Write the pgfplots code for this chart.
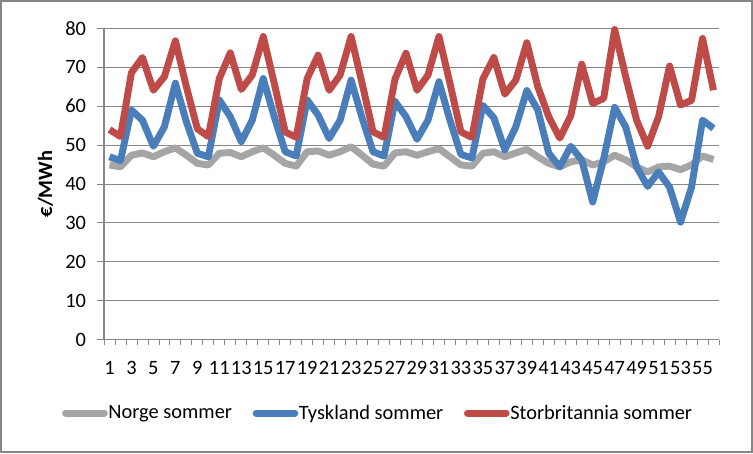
\documentclass[border=0pt]{standalone}
\usepackage{fontspec}
\setmainfont{Carlito}
\usepackage{pgfplots}
\usepackage{pgfplotstable}
\pgfplotsset{compat=1.18}

\definecolor{norge}{HTML}{A5A5A5}
\definecolor{tysk}{HTML}{4A7EBB}
\definecolor{storb}{HTML}{BE4B48}
\definecolor{gridgray}{HTML}{868686}

% uke, Norge, Tyskland, Storbritannia
\pgfplotstableread{
x N T S
1 44.9 47.0 54.0
2 44.4 46.0 52.2
3 47.4 59.0 68.6
4 48.0 56.4 72.5
5 47.0 49.7 64.1
6 48.3 54.7 67.6
7 49.3 65.9 76.8
8 47.4 56.0 65.0
9 45.3 47.9 54.2
10 44.9 47.0 52.2
11 47.9 61.6 67.1
12 48.1 57.3 73.7
13 47.0 50.9 64.3
14 48.3 56.4 68.0
15 49.3 67.1 77.9
16 47.4 57.3 65.9
17 45.3 48.3 53.4
18 44.6 47.2 52.0
19 48.3 61.6 67.1
20 48.5 57.7 73.1
21 47.4 51.7 64.1
22 48.3 56.4 68.0
23 49.6 66.7 77.9
24 47.4 57.0 65.9
25 45.1 48.3 53.4
26 44.6 47.2 52.0
27 48.0 61.2 67.0
28 48.3 57.3 73.6
29 47.4 51.5 64.1
30 48.3 56.4 68.0
31 49.1 66.3 77.9
32 47.0 56.4 65.9
33 44.9 47.6 53.4
34 44.6 46.7 52.0
35 47.9 60.2 67.0
36 48.3 57.0 72.5
37 47.0 48.8 63.1
38 48.0 54.7 66.7
39 48.9 64.0 76.3
40 47.0 59.0 65.0
41 45.3 47.9 57.3
42 44.4 44.4 51.8
43 45.7 49.7 57.5
44 46.2 46.2 70.8
45 44.9 35.4 60.7
46 45.7 46.5 62.0
47 47.4 59.7 79.7
48 46.2 54.7 67.6
49 44.4 44.4 56.4
50 43.1 39.4 49.7
51 44.4 43.1 57.3
52 44.6 39.2 70.3
53 43.7 30.2 60.3
54 44.9 39.2 61.5
55 47.2 56.4 77.4
56 46.3 54.3 64.1
}\data

\begin{document}
\begin{tikzpicture}
    % ramme rundt hele diagrammet
    \path[use as bounding box] (-78pt,-85pt) rectangle (486.75pt,254.8pt);
    \draw[gridgray, line width=1.5pt] (-77.25pt,-84.25pt) rectangle (486pt,254.05pt);

    \begin{axis}[
        scale only axis,
        width = 461.25pt,
        height = 233.55pt,
        at = {(0,0)},
        anchor = south west,
        xmin = 0.5, xmax = 56.5,
        ymin = 0, ymax = 80,
        xtick = {1,3,...,55},
        minor xtick = {0.5,1.5,...,56.5},
        ytick = {0,10,...,80},
        axis x line* = bottom,
        axis y line* = left,
        axis line style = {gridgray, line width=0.8pt, -},
        ymajorgrids,
        grid style = {gridgray, line width=0.8pt},
        tick align = outside,
        x tick style = {draw=none},
        minor x tick style = {draw=gridgray, line width=0.6pt},
        minor tick length = 4pt,
        y tick style = {gridgray, line width=0.8pt},
        major tick length = 5.25pt,
        /pgf/number format/assume math mode = true,
        ticklabel style = {font=\fontsize{15.3}{17}\selectfont},
        xticklabel style = {inner sep=0pt, yshift=-11pt},
        yticklabel style = {inner sep=0pt, xshift=-8pt},
        ylabel = {\fontsize{15.3}{17}\selectfont\bfseries €/MWh},
        every axis y label/.style = {at={(-44pt,0.5)}, rotate=90, anchor=center},
        clip = false,
        legend columns = 3,
        legend style = {
            draw = none,
            fill = none,
            at = {(0.4447,-0.2354)},
            anchor = center,
            font = \fontsize{15.3}{17}\selectfont,
            /tikz/every even column/.append style = {column sep=15pt},
            nodes = {inner sep=0.5pt},
        },
        legend image code/.code = {
            \draw[#1, line cap=round] (0pt,0pt) -- (29pt,0pt);
        },
        every axis plot/.append style = {line width=5.2pt, line join=round, mark=none},
    ]
        \addplot[norge] table[x=x, y=N] {\data};
        \addlegendentry{Norge sommer}
        \addplot[tysk] table[x=x, y=T] {\data};
        \addlegendentry{Tyskland sommer}
        \addplot[storb] table[x=x, y=S] {\data};
        \addlegendentry{Storbritannia sommer}
    \end{axis}
\end{tikzpicture}
\end{document}
